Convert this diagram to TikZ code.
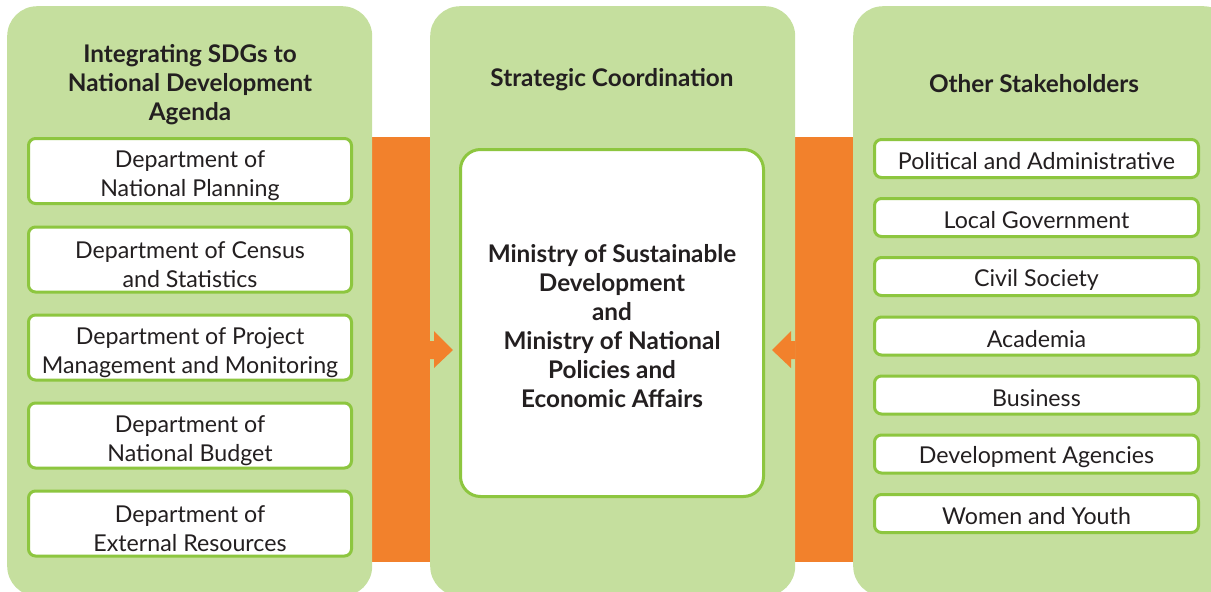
\documentclass[tikz,border=0pt]{standalone}
\usepackage{fontspec}
\setmainfont{Lato}
\definecolor{panelgreen}{HTML}{C5DF9E}
\definecolor{edgegreen}{HTML}{8DC63F}
\definecolor{orng}{HTML}{F2812C}
\definecolor{txt}{HTML}{231F20}
\begin{document}
\begin{tikzpicture}[x=1pt,y=-1pt,
  panel/.style={fill=panelgreen, rounded corners=30pt, inner sep=0pt, anchor=north west},
  box/.style={draw=edgegreen, line width=3pt, fill=white, rounded corners=7pt, inner sep=0pt},
  reg/.style={align=center, text=txt, font=\fontsize{23.2}{29}\selectfont, inner sep=0pt},
  bld/.style={align=center, text=txt, font=\fontsize{24.3}{29}\selectfont\bfseries, inner sep=0pt},
  lbox/.style={box, minimum width=323pt, minimum height=65pt},
  rbox/.style={box, minimum width=324pt, minimum height=38pt},
  ltext/.style={reg, yshift=-5pt},
  rtext/.style={reg, yshift=-3pt},
  arr/.style={fill=orng}]
\useasboundingbox (0,0) rectangle (1211,592);
\clip (0,0) rectangle (1211,592);
\fill[orng] (372,137) rectangle (430,562);
\fill[orng] (795,137) rectangle (853,562);
\node[panel, minimum width=365pt, minimum height=590pt] (pl) at (7,6) {};
\node[panel, minimum width=365pt, minimum height=590pt] (pm) at (430,6) {};
\node[panel, minimum width=380pt, minimum height=590pt] (pr) at (853,6) {};
\node[bld] (tl) at (190,85) {Integrating SDGs to\\National Development\\Agenda};
\node[bld] (tm) at (612,80) {Strategic Coordination};
\node[bld] (tr) at (1034,84) {Other Stakeholders};
\node[lbox, label={[ltext]center:{Department of\\National Planning}}] (d1) at (190,171) {};
\node[lbox, label={[ltext]center:{Department of Census\\and Statistics}}] (d2) at (190,259.5) {};
\node[lbox, label={[ltext]center:{Department of Project\\Management and Monitoring}}] (d3) at (190,347.5) {};
\node[lbox, label={[ltext]center:{Department of\\National Budget}}] (d4) at (190,435.5) {};
\node[lbox, label={[ltext]center:{Department of\\External Resources}}] (d5) at (190,523.5) {};
\node[box, rounded corners=20pt, minimum width=303pt, minimum height=347pt, label={[bld, yshift=-3pt]center:{Ministry of Sustainable\\Development\\and\\Ministry of National\\Policies and\\Economic Affairs}}] (mid) at (612,323) {};
\node[rbox, label={[rtext]center:{Political and Administrative}}] (s1) at (1036.5,158.5) {};
\node[rbox, label={[rtext]center:{Local Government}}] (s2) at (1036.5,217.5) {};
\node[rbox, label={[rtext]center:{Civil Society}}] (s3) at (1036.5,276.5) {};
\node[rbox, label={[rtext]center:{Academia}}] (s4) at (1036.5,336) {};
\node[rbox, label={[rtext]center:{Business}}] (s5) at (1036.5,395) {};
\node[rbox, label={[rtext]center:{Development Agencies}}] (s6) at (1036.5,454) {};
\node[rbox, label={[rtext]center:{Women and Youth}}] (s7) at (1036.5,513.5) {};
\fill[arr] (pm.west |- 0,341) -- (434,341) -- (434,331) -- (453,350) -- (434,368) -- (434,359) -- (pm.west |- 0,359) -- cycle;
\fill[arr] (pm.east |- 0,341) -- (791,341) -- (791,331) -- (772,350) -- (791,368) -- (791,359) -- (pm.east |- 0,359) -- cycle;
\end{tikzpicture}
\end{document}
